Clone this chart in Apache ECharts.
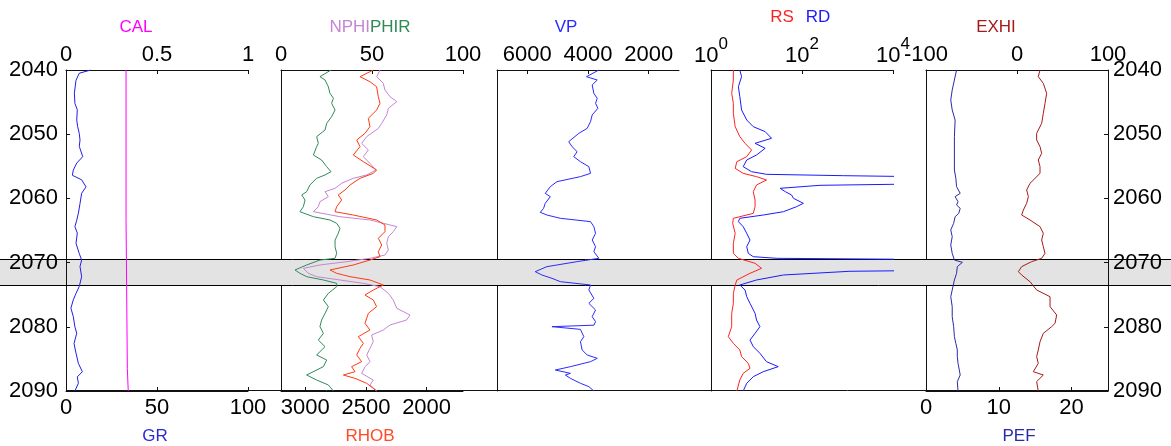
<!DOCTYPE html>
<html><head><meta charset="utf-8">
<script src="https://cdn.jsdelivr.net/npm/echarts@6/dist/echarts.min.js"></script>
<style>html,body{margin:0;padding:0;background:#fff}#c{width:1171px;height:446px}</style>
</head><body><div id="c"></div>
<script>
// ---------- data (depth in m) ----------
const depthMin = 2040, depthMax = 2090;
const bandTop = 2069.4, bandBottom = 2073.55;

const grDepth = [2040,2040.5,2041.6,2043.6,2045.2,2046.2,2047.8,2048.8,2049.9,2050.9,2051.9,2053.5,2054.5,2055.6,2056.4,2057.1,2058.2,2059.2,2060.8,2062.3,2063.4,2064.4,2065.4,2067,2068.6,2069.6,2070.6,2072.2,2073.7,2074.8,2075.8,2077.1,2078.4,2080,2081,2082.6,2084.1,2085.7,2087,2087.8,2088.8,2090];
const gr = [13.6,7.3,5.5,4.6,4.9,6.2,5.9,6.4,7.3,7.7,7.3,9.2,5.9,4.0,3.5,8.6,11.0,8.6,7.7,6.8,5.9,4.9,6.2,5.5,7.3,8.6,7.7,8.6,7.3,5.5,4.0,2.7,4.0,4.9,5.9,4.4,5.5,6.8,9.0,6.2,6.8,4.9];

const calDepth = [2040,2063.4,2063.5,2086.5,2086.6,2090];
const cal = [0.330,0.330,0.337,0.337,0.342,0.342];

const phirDepth = [2040,2041.04,2041.56,2042.6,2043.63,2044.41,2045.19,2046.23,2047.27,2048.31,2049.35,2050.38,2051.42,2051.94,2053.24,2054.02,2055.06,2055.84,2056.35,2056.87,2057.91,2058.95,2059.47,2060.25,2061.29,2062.07,2062.85,2063.36,2063.88,2064.66,2065.44,2066.48,2067.52,2068.56,2069.33,2069.6,2070.37,2071.15,2071.67,2072.19,2072.71,2073.23,2073.75,2074.79,2075.83,2076.86,2077.9,2078.94,2079.98,2081.02,2082.06,2083.09,2084.39,2085.17,2086.21,2087.51,2088.29,2089.06,2090];
const phir = [27.5,21.4,24.2,26.0,26.9,28.8,27.8,29.7,27.8,25.1,24.2,19.6,20.5,19.6,17.8,22.3,25.1,27.5,24.2,19.6,15.9,14.1,11.4,13.2,12.3,10.4,17.8,26.9,30.6,32.4,31.5,29.7,29.7,30.6,29.7,21.4,14.1,7.7,10.4,14.1,23.3,30.6,30.6,26.0,23.3,26.0,24.2,22.3,21.4,23.3,20.5,24.2,19.6,25.1,23.3,14.1,19.6,26.0,28.8];

const nphiDepth = [2040,2041.04,2042.08,2043.12,2044.15,2044.93,2045.97,2047.0,2048.31,2049.09,2050.38,2051.42,2052.46,2053.5,2054.54,2055.58,2056.35,2056.87,2057.65,2058.43,2058.95,2059.73,2060.51,2061.29,2062.07,2062.85,2063.36,2063.88,2064.4,2065.18,2065.96,2067.0,2068.04,2068.82,2069.33,2069.85,2070.37,2070.89,2071.67,2072.19,2072.71,2073.23,2073.75,2074.79,2075.83,2077.12,2078.16,2078.94,2079.72,2080.5,2081.28,2082.32,2083.35,2084.39,2085.43,2086.21,2087.25,2088.29,2089.06,2090];
const nphi = [54.4,52.6,56.2,57.1,59.9,63.6,59.0,58.1,55.3,53.5,47.1,44.3,48.0,45.2,48.9,52.2,47.1,39.7,33.3,29.7,24.2,26.0,21.4,20.5,17.8,32.4,48.9,56.2,63.6,61.7,59.0,58.1,59.0,57.1,48.9,36.1,21.4,12.3,15.0,19.6,32.4,45.2,54.4,59.0,61.7,63.6,70.9,69.0,59.9,56.2,49.8,50.7,48.9,47.1,48.9,46.2,44.3,50.7,48.9,52.6];

const rhobDepth = [2040,2041.04,2041.82,2042.6,2044.15,2045.19,2046.23,2047.53,2048.83,2049.87,2050.9,2051.94,2053.24,2054.28,2055.58,2056.1,2056.87,2057.91,2058.69,2059.47,2060.25,2061.29,2062.07,2062.59,2063.36,2064.14,2065.18,2066.22,2067.26,2068.3,2069.08,2069.6,2070.37,2071.15,2071.67,2072.19,2072.71,2073.49,2074.27,2075.05,2075.83,2076.86,2077.9,2079.46,2080.5,2081.54,2082.58,2083.35,2084.39,2085.43,2086.21,2086.99,2087.51,2088.03,2088.8,2090];
const rhob = [2439,2549,2467,2412,2398,2384,2412,2480,2467,2508,2576,2549,2604,2521,2412,2439,2549,2631,2673,2728,2700,2741,2755,2604,2412,2343,2343,2398,2370,2398,2384,2467,2604,2796,2741,2631,2467,2357,2439,2508,2439,2412,2480,2508,2467,2563,2521,2549,2576,2535,2618,2590,2686,2590,2494,2412];

const vpDepth = [2040,2041.04,2041.56,2042.34,2043.63,2044.41,2045.19,2045.97,2047.0,2048.05,2049.09,2049.87,2051.16,2051.94,2052.72,2053.5,2054.28,2055.06,2056.1,2056.61,2057.39,2058.17,2059.21,2059.73,2060.77,2061.55,2062.17,2062.59,2063.1,2063.62,2064.4,2065.44,2066.48,2067.52,2068.3,2069.33,2069.85,2070.63,2071.41,2071.93,2072.45,2072.97,2073.49,2074.27,2075.57,2076.34,2077.38,2078.42,2079.2,2079.75,2079.98,2080.4,2081.54,2082.32,2083.61,2084.39,2084.91,2085.43,2086.21,2086.73,2087.25,2087.51,2088.03,2088.8,2089.32,2090];
const vp = [3641,4050,3696,3862,3807,3696,3751,3674,3862,3917,4027,4304,4635,4525,4359,4470,4249,3972,3917,4249,5022,5243,5409,5243,5409,5464,5575,5354,4912,3917,3807,3751,3862,3751,3807,3641,4359,5354,5740,5519,5188,4912,3917,3972,3807,3972,3751,3862,3751,3807,5188,4249,4138,4249,4193,4027,3696,3917,4580,5077,4580,4746,4580,4249,3972,3807];

const rsDepth = [2040,2041.56,2043.63,2045.19,2046.75,2048.83,2050.38,2051.42,2052.46,2053.5,2054.28,2055.32,2056.1,2056.61,2057.13,2057.91,2058.95,2060.25,2061.29,2062.33,2063.1,2063.88,2065.44,2067.0,2068.56,2069.33,2070.11,2070.89,2071.67,2072.71,2073.49,2074.79,2076.34,2077.9,2079.98,2081.54,2082.58,2083.61,2084.65,2085.69,2086.47,2087.25,2088.29,2090];
const rs = [3.1,3.1,2.85,3.1,3.1,3.4,4.3,5.6,7.8,6.1,3.7,3.4,5.1,10,16.6,10,8.5,9.3,9.3,8.5,3.1,3.0,3.4,3.1,3.1,4.0,9.3,12.9,7.2,3.7,3.4,3.1,3.1,2.85,2.85,2.4,3.1,4.3,4.7,6.6,7.2,5.1,4.3,3.7];

const rdDepth = [2040,2041.04,2042.6,2044.15,2046.23,2047.79,2048.83,2049.6,2050.64,2051.42,2052.2,2053.24,2054.02,2055.06,2055.84,2056.25,2056.46,2056.61,2057.76,2057.96,2058.43,2058.95,2059.47,2059.99,2060.51,2060.77,2061.29,2062.07,2062.59,2063.1,2063.62,2064.4,2065.44,2066.48,2067.52,2068.56,2069.08,2069.33,2069.5,2071.25,2071.35,2071.93,2072.71,2073.49,2074.27,2075.31,2076.34,2077.9,2078.94,2079.98,2081.02,2082.06,2083.09,2084.13,2085.43,2086.21,2086.99,2087.77,2088.8,2090];
const rd = [4.3,4.7,4.0,4.3,4.7,6.1,8.5,15.5,21.4,9.3,15.5,10,6.1,5.1,7.8,16.6,810,30000,30000,250,33,43,59,65,91,107,76,39,14.1,4.3,4.0,5.1,6.1,7.2,6.1,6.6,8.5,28,30000,30000,1130,39,10,4.3,5.6,6.1,7.2,9.3,10,11.9,9.3,7.2,8.5,11.9,16.6,30,14.1,8.5,6.1,5.1];

const pefDepth = [2040,2041.56,2043.12,2044.67,2046.23,2047.79,2050.38,2054.02,2055.58,2056.87,2058.17,2059.21,2059.73,2060.51,2061.03,2061.55,2062.33,2062.85,2063.88,2064.92,2065.96,2067.26,2068.56,2069.6,2069.96,2070.63,2071.67,2072.71,2074.27,2075.31,2076.86,2078.42,2079.98,2081.54,2082.58,2083.61,2084.65,2085.69,2087.51,2088.54,2090];
const pef = [4.2,3.9,3.6,3.4,3.6,4.0,3.9,3.9,3.9,4.1,4.2,4.7,4.0,4.4,4.2,4.7,4.5,4.0,3.8,3.4,3.6,3.4,3.6,3.9,5.0,4.3,4.2,3.9,3.6,3.4,3.6,3.6,3.8,3.9,4.1,4.3,4.3,4.4,4.7,4.3,4.4];

const exhiDepth = [2040,2041.04,2042.08,2043.63,2045.19,2046.75,2048.31,2049.87,2050.9,2051.94,2052.98,2054.02,2055.06,2056.1,2057.65,2058.69,2059.73,2060.77,2061.81,2062.59,2063.36,2064.4,2065.44,2066.48,2067.52,2068.56,2069.33,2069.85,2070.63,2071.41,2071.93,2072.97,2074.27,2075.31,2076.86,2078.16,2079.46,2079.98,2081.02,2082.32,2083.61,2084.65,2085.69,2086.99,2087.51,2088.54,2090];
const exhi = [25.3,23.4,28.9,32.6,30.8,28.9,27.1,21.6,21.6,25.3,27.1,23.4,25.3,25.3,14.3,10.6,12.5,10.6,7.0,5.1,14.3,25.3,28.9,27.1,28.9,30.8,27.1,16.1,5.1,1.5,5.1,14.3,21.6,36.3,36.3,43.6,41.8,38.1,28.9,25.3,23.4,21.6,23.4,17.9,28.9,21.6,23.4];

// tick labels
const calTicks = [0, 0.5, 1];
const porTicks = [0, 50, 100];
const grTicks = [0, 50, 100];
const rhobTicks = [2000, 2500, 3000];
const vpTicks = [2000, 4000, 6000];
const resTicks = [1, 100, 10000];
const exhiTicks = [-100, 0, 100];
const pefTicks = [0, 10, 20];

// ---------- layout ----------
const FONT = '"Liberation Sans", Arial, sans-serif';
const TICKFS = 22;
const LEFTS = [66, 281, 497, 711, 926];
const W = 182, TOP = 70, H = 321;

const pts = (xs, ds) => ds.map((d, i) => [xs[i], d]);
const plain = v => String(v);

const grids = LEFTS.map(l => ({left: l, top: TOP, width: W, height: H, outerBoundsMode: 'none'}));

function xAx(grid, pos, min, max, ticks, extra) {
  const ax = {
    type: 'value', gridIndex: grid, position: pos, min: min, max: max,
    axisLine: {show: true, onZero: false, lineStyle: {color: '#111', width: 1}},
    axisTick: {show: true, inside: true, length: 4, customValues: ticks, lineStyle: {color: '#111'}},
    axisLabel: {show: true, customValues: ticks, margin: pos === 'top' ? 4 : 6, formatter: plain,
      fontFamily: FONT, fontSize: TICKFS, color: '#000', showMinLabel: true, showMaxLabel: true, hideOverlap: false},
    splitLine: {show: false}
  };
  return Object.assign(ax, extra || {});
}
function yAx(grid, pos, showLabels, extra) {
  return Object.assign({
    type: 'value', gridIndex: grid, position: pos, min: depthMin, max: depthMax, interval: 10, inverse: true,
    axisLine: {show: true, onZero: false, lineStyle: {color: '#111', width: 1}},
    axisTick: {show: showLabels, inside: true, length: 4, lineStyle: {color: '#111'}},
    axisLabel: {show: showLabels, margin: pos === 'left' ? 8 : 5, fontFamily: FONT, fontSize: TICKFS, color: '#000',
      formatter: plain, showMinLabel: true, showMaxLabel: true},
    splitLine: {show: false}
  }, extra || {});
}

const xAxes = [
  xAx(0, 'top', 0, 1, calTicks),
  xAx(0, 'bottom', 0, 100, grTicks),
  xAx(1, 'top', 0, 100, porTicks),
  xAx(1, 'bottom', 1700, 3200, rhobTicks, {inverse: true}),
  xAx(2, 'top', 1000, 7000, vpTicks, {inverse: true}),
  xAx(3, 'top', 1, 10000, resTicks, {type: 'log', logBase: 10}),
  xAx(4, 'top', -100, 100, exhiTicks),
  xAx(4, 'bottom', 0, 25, pefTicks)
];
// superscript labels on the resistivity axis
xAxes[5].axisLabel.margin = -5;
xAxes[5].axisLabel.formatter = v => '{b|10}{s|' + Math.round(Math.log10(v)) + '}';
xAxes[5].axisLabel.rich = {
  b: {fontFamily: FONT, fontSize: TICKFS, color: '#000'},
  s: {fontFamily: FONT, fontSize: 17, color: '#000', padding: [0, 0, 22, 0]}
};

const yAxes = [
  yAx(0, 'left', true, {z: 3}),
  yAx(1, 'left', false),
  yAx(2, 'left', false),
  yAx(3, 'left', false),
  yAx(4, 'left', false),
  yAx(4, 'right', true, {z: 3})
];

function line(name, xs, ds, xi, yi, color) {
  return {name: name, type: 'line', xAxisIndex: xi, yAxisIndex: yi, data: pts(xs, ds),
    showSymbol: false, symbol: 'none', clip: true, z: 2,
    lineStyle: {color: color, width: 1}, itemStyle: {color: color}};
}

const series = [
  line('CAL', cal, calDepth, 0, 0, '#ff00ff'),
  line('GR', gr, grDepth, 1, 0, '#1f1fe6'),
  line('NPHI', nphi, nphiDepth, 2, 1, '#c585d5'),
  line('PHIR', phir, phirDepth, 2, 1, '#2e8b57'),
  line('RHOB', rhob, rhobDepth, 3, 1, '#ff3a10'),
  line('VP', vp, vpDepth, 4, 2, '#2a2aff'),
  line('RS', rs, rsDepth, 5, 3, '#ff2222'),
  line('RD', rd, rdDepth, 5, 3, '#1a1aff'),
  line('PEF', pef, pefDepth, 7, 4, '#2a2aa8'),
  line('EXHI', exhi, exhiDepth, 6, 4, '#a51a1a')
];

const chart = echarts.init(document.getElementById('c'), null, {renderer: 'canvas'});
chart.setOption({
  animation: false,
  backgroundColor: '#fff',
  grid: grids, xAxis: xAxes, yAxis: yAxes, series: series
});

const yT = chart.convertToPixel({yAxisIndex: 0}, bandTop);
const yB = chart.convertToPixel({yAxisIndex: 0}, bandBottom);
const yEnd = chart.convertToPixel({yAxisIndex: 0}, depthMax);
const xStart = chart.convertToPixel({xAxisIndex: 1}, 0);
const xEnd = chart.convertToPixel({xAxisIndex: 7}, 25);

function title(text, x, y, color, align) {
  return {type: 'text', x: x, y: y, z: 10, silent: true,
    style: {text: text, fill: color, font: '17px ' + FONT, align: align || 'center', verticalAlign: 'middle'}};
}

chart.setOption({
  graphic: [
    {type: 'rect', z: 1, silent: true,
     shape: {x: -2, y: Math.round(yT) + 0.5, width: 1175, height: Math.round(yB) - Math.round(yT)},
     style: {fill: '#e3e3e3', stroke: '#000', lineWidth: 1}},
    {type: 'line', z: 1, silent: true,
     shape: {x1: xStart, y1: Math.round(yEnd) - 0.5, x2: xEnd, y2: Math.round(yEnd) - 0.5},
     style: {stroke: '#111', lineWidth: 1}},
    title('CAL', 136, 27, '#ff00ff'),
    title('NPHI', 370, 27, '#c585d5', 'right'),
    title('PHIR', 370, 27, '#2e8b57', 'left'),
    title('VP', 566, 27, '#2a2aff'),
    title('RS', 782, 17, '#ff2222'),
    title('RD', 818, 17, '#1a1aff'),
    title('EXHI', 996, 27, '#a51a1a'),
    title('GR', 155, 436, '#2a2ad0'),
    title('RHOB', 370, 436, '#ff4a25'),
    title('PEF', 1019, 436, '#2a2aa8')
  ]
});
</script>
</body></html>
